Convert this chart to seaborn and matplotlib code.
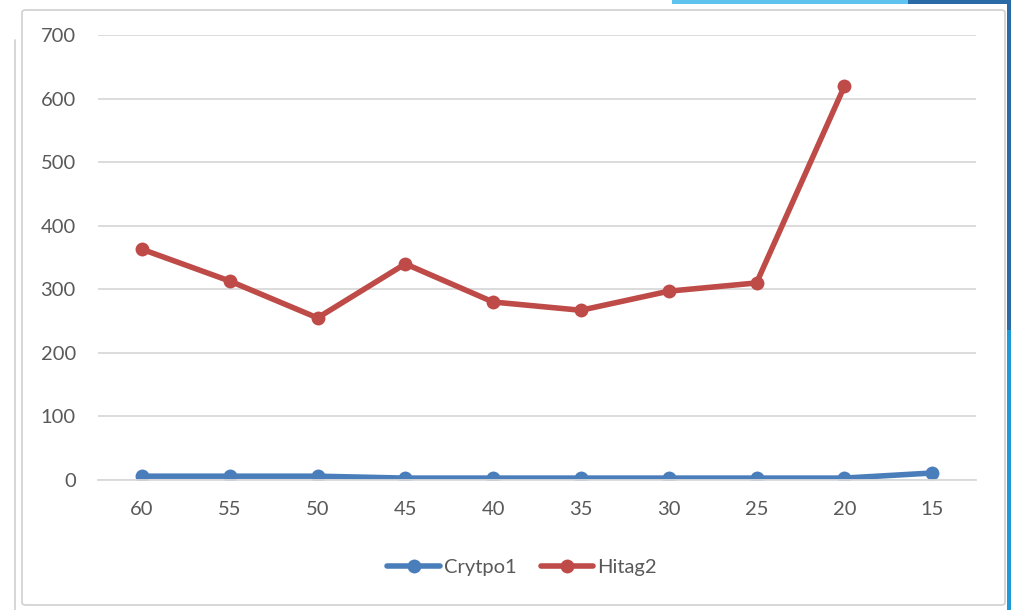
import numpy as np
import pandas as pd
import matplotlib
matplotlib.use("Agg")
import matplotlib.pyplot as plt
from matplotlib.patches import FancyBboxPatch, Rectangle
from matplotlib.lines import Line2D
import seaborn as sns

# Data
categories = ["60", "55", "50", "45", "40", "35", "30", "25", "20", "15"]
crytpo1 = [6, 6, 6, 3, 3, 3, 3, 3, 3, 11]
hitag2 = [363, 313, 255, 340, 280, 267, 297, 310, 619, np.nan]
yticks = [0, 100, 200, 300, 400, 500, 600, 700]

series_names = ["Crytpo1", "Hitag2"]
colors = {"Crytpo1": "#4a7ebb", "Hitag2": "#be4b48"}

df = pd.DataFrame({
    "x": categories * 2,
    "value": crytpo1 + hitag2,
    "series": [series_names[0]] * len(categories) + [series_names[1]] * len(categories),
})
df = df.dropna()

sns.set_theme(style="white")
plt.rcParams["font.family"] = ["Lato", "DejaVu Sans"]

W, H = 1011, 610
fig = plt.figure(figsize=(W / 100, H / 100), dpi=100)
fig.patch.set_facecolor("white")

# chart frame and surrounding window edges
def px(x0, y0, w, h):
    return (x0 / W, 1 - (y0 + h) / H, w / W, h / H)

x0, y0, w, h = px(22, 10, 983, 595)
fig.add_artist(FancyBboxPatch((x0, y0), w, h, boxstyle="round,pad=0,rounding_size=0.004",
                              transform=fig.transFigure, facecolor="none",
                              edgecolor="#d0d0d0", linewidth=1.2, zorder=0))
fig.add_artist(Line2D([15 / W, 15 / W], [0, 1 - 40 / H], transform=fig.transFigure,
                      color="#cfcfcf", linewidth=1.2, zorder=0))
for (rx, ry, rw, rh, c) in [(672, 0, 236, 4, "#5ec4ef"), (908, 0, 103, 4, "#2a6aa6"),
                            (1007, 0, 4, 330, "#2a6aa6"), (1007, 330, 4, 280, "#1f9ad8")]:
    a, b, cw, ch = px(rx, ry, rw, rh)
    fig.add_artist(Rectangle((a, b), cw, ch, transform=fig.transFigure,
                             facecolor=c, edgecolor="none", zorder=0))

ax = fig.add_axes([98 / W, 1 - 480 / H, 878 / W, 445 / H])
ax.set_facecolor("none")
ax.set_zorder(3)

sns.lineplot(data=df, x="x", y="value", hue="series", palette=colors, sort=False,
             marker="o", markersize=10, markeredgewidth=0, linewidth=4,
             legend=False, ax=ax)

ax.set_xlim(-0.5, len(categories) - 0.5)
ax.set_ylim(0, 700)
ax.set_yticks(yticks)
ax.set_yticklabels([str(v) for v in yticks])
ax.grid(axis="y", color="#d9d9d9", linewidth=1.3)
ax.grid(axis="x", visible=False)
ax.set_axisbelow(True)
for s in ["left", "right", "top"]:
    ax.spines[s].set_visible(False)
ax.spines["bottom"].set_color("#d9d9d9")
ax.spines["bottom"].set_linewidth(1.3)
ax.tick_params(axis="both", length=0, labelsize=14.5, colors="#595959")
ax.tick_params(axis="x", pad=15)
ax.tick_params(axis="y", pad=16)
ax.set_xlabel("")
ax.set_ylabel("")

handles = [Line2D([0], [0], color=colors[n], linewidth=4, marker="o", markersize=10,
                  markeredgewidth=0) for n in series_names]
fig.legend(handles, series_names, loc="center", bbox_to_anchor=(522 / W, 1 - 567 / H),
           ncol=2, frameon=False, fontsize=14.5, labelcolor="#595959",
           handlelength=2.6, handletextpad=0.2, columnspacing=1.2)

fig.savefig("out.png", dpi=100, facecolor="white")
